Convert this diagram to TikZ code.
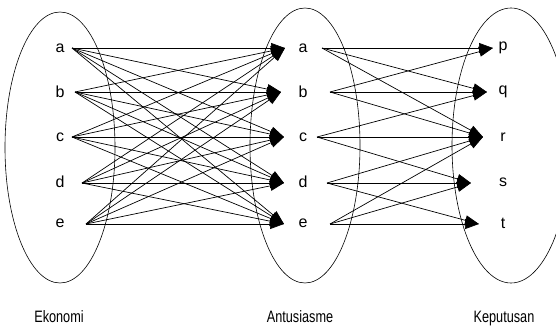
\documentclass[tikz,border=0pt]{standalone}
\usepackage{fontspec}
\setmainfont{Liberation Sans}
\newfontfamily\narrowfont{Liberation Sans}[FakeStretch=0.77]
\usetikzlibrary{arrows.meta}

\begin{document}
\begin{tikzpicture}[x=1pt,y=-1pt,
    letter/.style={font=\fontsize{16}{18}\selectfont},
    setname/.style={font=\narrowfont\fontsize{16.5}{18}\selectfont,anchor=base},
    link/.style={-{Triangle[length=14pt,width=10pt]},line width=0.7pt}]
    \useasboundingbox (0,0) rectangle (556,327);

    \draw[line width=0.6pt] (60,147.5) ellipse (55 and 135.5);
    \node[letter] (e1) at (60,48) {a};
    \coordinate (s1) at (72,48);
    \node[letter] (e2) at (60,92) {b};
    \coordinate (s2) at (75,92);
    \node[letter] (e3) at (60,137) {c};
    \coordinate (s3) at (72,137);
    \node[letter] (e4) at (60,182) {d};
    \coordinate (s4) at (82,183);
    \node[letter] (e5) at (60,223) {e};
    \coordinate (s5) at (86,224);
    \node[setname] (ekonomi) at (59,322) {Ekonomi};

    \draw[line width=0.6pt] (305,145.5) ellipse (55 and 137.5);
    \node[letter] (a1) at (303,48) {a};
    \coordinate (t1) at (285,48);
    \coordinate (u1) at (322,48);
    \node[letter] (a2) at (303,92) {b};
    \coordinate (t2) at (281,92);
    \coordinate (u2) at (330,92);
    \node[letter] (a3) at (303,137) {c};
    \coordinate (t3) at (284,137);
    \coordinate (u3) at (317,137);
    \node[letter] (a4) at (303,182) {d};
    \coordinate (t4) at (284,183);
    \coordinate (u4) at (327,183);
    \node[letter] (a5) at (303,223) {e};
    \coordinate (t5) at (284,224);
    \coordinate (u5) at (330,224);
    \node[setname] (antusiasme) at (300,322) {Antusiasme};

    \draw[line width=0.6pt] (511,145.5) ellipse (59 and 137.5);
    \node[letter] (k1) at (503,48) {p};
    \coordinate (v1) at (493,48);
    \node[letter] (k2) at (503,92) {q};
    \coordinate (v2) at (487,92);
    \node[letter] (k3) at (503,137) {r};
    \coordinate (v3) at (483,137);
    \node[letter] (k4) at (503,182) {s};
    \coordinate (v4) at (471,183);
    \node[letter] (k5) at (503,223) {t};
    \coordinate (v5) at (479,224);
    \node[setname] (keputusan) at (504,322) {Keputusan};

    \draw[link] (s1) -- (t1);
    \draw[link] (s1) -- (t2);
    \draw[link] (s1) -- (t3);
    \draw[link] (s1) -- (t4);
    \draw[link] (s1) -- (t5);
    \draw[link] (s2) -- (t1);
    \draw[link] (s2) -- (t2);
    \draw[link] (s2) -- (t3);
    \draw[link] (s2) -- (t4);
    \draw[link] (s2) -- (t5);
    \draw[link] (s3) -- (t1);
    \draw[link] (s3) -- (t2);
    \draw[link] (s3) -- (t3);
    \draw[link] (s3) -- (t4);
    \draw[link] (s3) -- (t5);
    \draw[link] (s4) -- (t1);
    \draw[link] (s4) -- (t2);
    \draw[link] (s4) -- (t3);
    \draw[link] (s4) -- (t4);
    \draw[link] (s4) -- (t5);
    \draw[link] (s5) -- (t1);
    \draw[link] (s5) -- (t2);
    \draw[link] (s5) -- (t3);
    \draw[link] (s5) -- (t4);
    \draw[link] (s5) -- (t5);

    \draw[link] (u1) -- (v1);
    \draw[link] (u1) -- (v2);
    \draw[link] (u1) -- (v3);
    \draw[link] (u2) -- (v1);
    \draw[link] (u2) -- (v2);
    \draw[link] (u2) -- (v3);
    \draw[link] (u3) -- (v2);
    \draw[link] (u3) -- (v3);
    \draw[link] (u3) -- (v4);
    \draw[link] (u4) -- (v3);
    \draw[link] (u4) -- (v4);
    \draw[link] (u4) -- (v5);
    \draw[link] (u5) -- (v3);
    \draw[link] (u5) -- (v4);
    \draw[link] (u5) -- (v5);
\end{tikzpicture}
\end{document}
